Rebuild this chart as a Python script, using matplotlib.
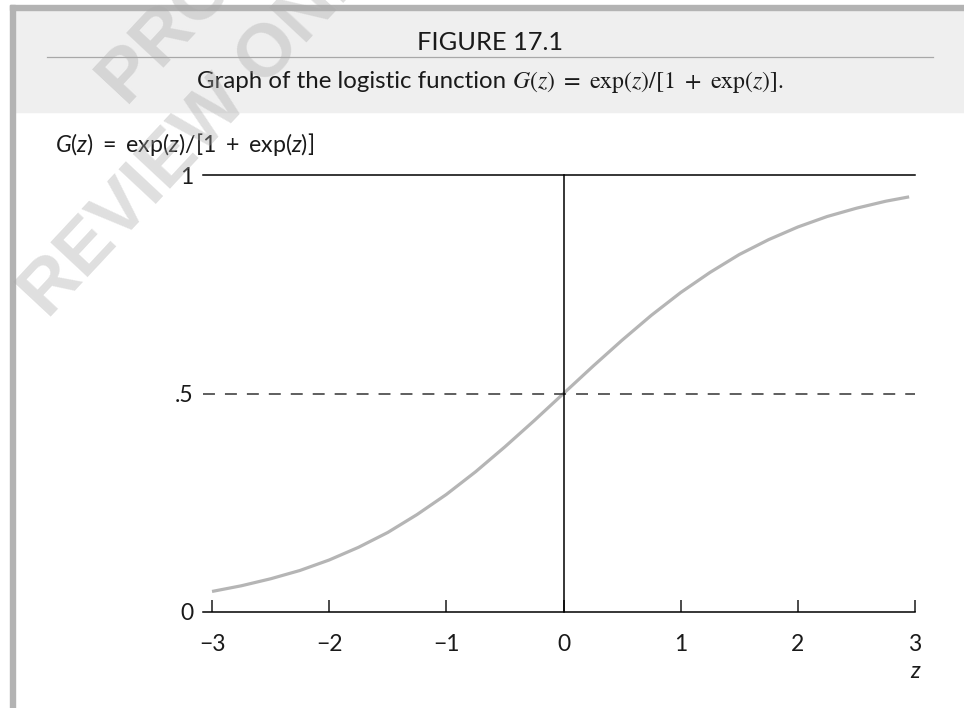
import matplotlib
matplotlib.use("Agg")
import matplotlib.pyplot as plt
from matplotlib.patches import Rectangle
from matplotlib.lines import Line2D

# logistic curve, G(z) read at steps of 0.25
z_vals = [-3.0, -2.75, -2.5, -2.25, -2.0, -1.75, -1.5, -1.25, -1.0, -0.75, -0.5, -0.25,
          0.0, 0.25, 0.5, 0.75, 1.0, 1.25, 1.5, 1.75, 2.0, 2.25, 2.5, 2.75, 2.95]
g_vals = [0.047, 0.060, 0.076, 0.095, 0.119, 0.148, 0.182, 0.223, 0.269, 0.321, 0.378, 0.438,
          0.500, 0.562, 0.622, 0.679, 0.731, 0.777, 0.818, 0.852, 0.881, 0.905, 0.924, 0.940, 0.950]

x_ticks = [-3, -2, -1, 0, 1, 2, 3]
x_labels = ["\u22123", "\u22122", "\u22121", "0", "1", "2", "3"]
y_ticks = [0, 0.5, 1]
y_labels = ["0", ".5", "1"]

plt.rcParams["font.family"] = ["Lato", "DejaVu Sans"]
plt.rcParams["mathtext.fontset"] = "custom"
plt.rcParams["mathtext.rm"] = "Lato"
plt.rcParams["mathtext.it"] = "Lato:italic"
plt.rcParams["lines.scale_dashes"] = False

W, H = 964, 708
fig = plt.figure(figsize=(W / 100, H / 100), dpi=100)


def fx(x):
    return x / W


def fy(y):
    return 1 - y / H


# page frame and header band
fig.patches.append(Rectangle((fx(15), fy(112)), fx(W - 15), (112 - 10) / H,
                             transform=fig.transFigure, color="#efefef", zorder=0))
fig.patches.append(Rectangle((fx(10), fy(10)), fx(W - 10), 5 / H,
                             transform=fig.transFigure, color="#b3b3b3", zorder=1))
fig.patches.append(Rectangle((fx(10), 0), fx(5), fy(5),
                             transform=fig.transFigure, color="#b3b3b3", zorder=1))
fig.lines.append(Line2D([fx(47), fx(933)], [fy(57), fy(57)], transform=fig.transFigure,
                        color="#a8a8a8", lw=0.9))

fig.text(fx(490), fy(42), "FIGURE 17.1", ha="center", va="center", fontsize=18.3, color="#1a1a1a")

# caption: sans text followed by the formula in a serif face
cap_a = fig.text(fx(197), fy(82), "Graph of the logistic function ", ha="left", va="center",
                 fontsize=17.3, color="#1a1a1a")
renderer = fig.canvas.get_renderer()
bb = cap_a.get_window_extent(renderer)
fig.text(bb.x1 / W, fy(82), r"$G(z)\ =\ \mathrm{exp}(z)/[1\ +\ \mathrm{exp}(z)].$",
         ha="left", va="center", fontsize=17.2, color="#1a1a1a", math_fontfamily="stix")

# plot area
ax = fig.add_axes([fx(203), fy(612), (915 - 203) / W, (612 - 175) / H])
ax.set_xlim(-3.077, 3.0)
ax.set_ylim(0, 1)
for s in ax.spines.values():
    s.set_visible(False)
ax.patch.set_visible(False)

ax.plot(z_vals, g_vals, color="#b5b5b5", lw=2.3, solid_capstyle="butt", zorder=2)
ax.axhline(1, color="black", lw=1.1, clip_on=False, zorder=3)
ax.axhline(0, color="black", lw=1.1, clip_on=False, zorder=3)
ax.axhline(0.5, color="#333333", lw=1.1, dashes=(8.6, 7.2), clip_on=False, zorder=3)
ax.plot([0, 0], [0, 1], color="black", lw=1.1, zorder=3, clip_on=False)

ax.set_xticks(x_ticks)
ax.set_xticklabels(x_labels)
ax.set_yticks(y_ticks)
ax.set_yticklabels(y_labels)
ax.tick_params(axis="x", direction="in", length=8.6, width=1.1, pad=15.5, labelsize=16.5,
               colors="#1a1a1a")
ax.tick_params(axis="y", length=0, pad=7, labelsize=16.5, colors="#1a1a1a")

ax.text(3.0, -0.137, "z", style="italic", ha="center", va="center", fontsize=16.5,
        color="#1a1a1a")
fig.text(fx(55), fy(145), r"$G(z)\ =\ \mathrm{exp}(z)/[1\ +\ \mathrm{exp}(z)]$", ha="left",
         va="center", fontsize=16.7, color="#1a1a1a")

# diagonal review stamp
stamp = dict(ha="left", va="baseline", rotation=47, fontsize=54, fontweight="bold",
             family="Liberation Sans", color="#a8a8a8", alpha=0.36, zorder=10,
             rotation_mode="anchor")
fig.text(fx(125), fy(104), "PROPERTY", **stamp)
fig.text(fx(48), fy(320), "REVIEW ONLY", **stamp)

fig.savefig("out.png", dpi=100)
